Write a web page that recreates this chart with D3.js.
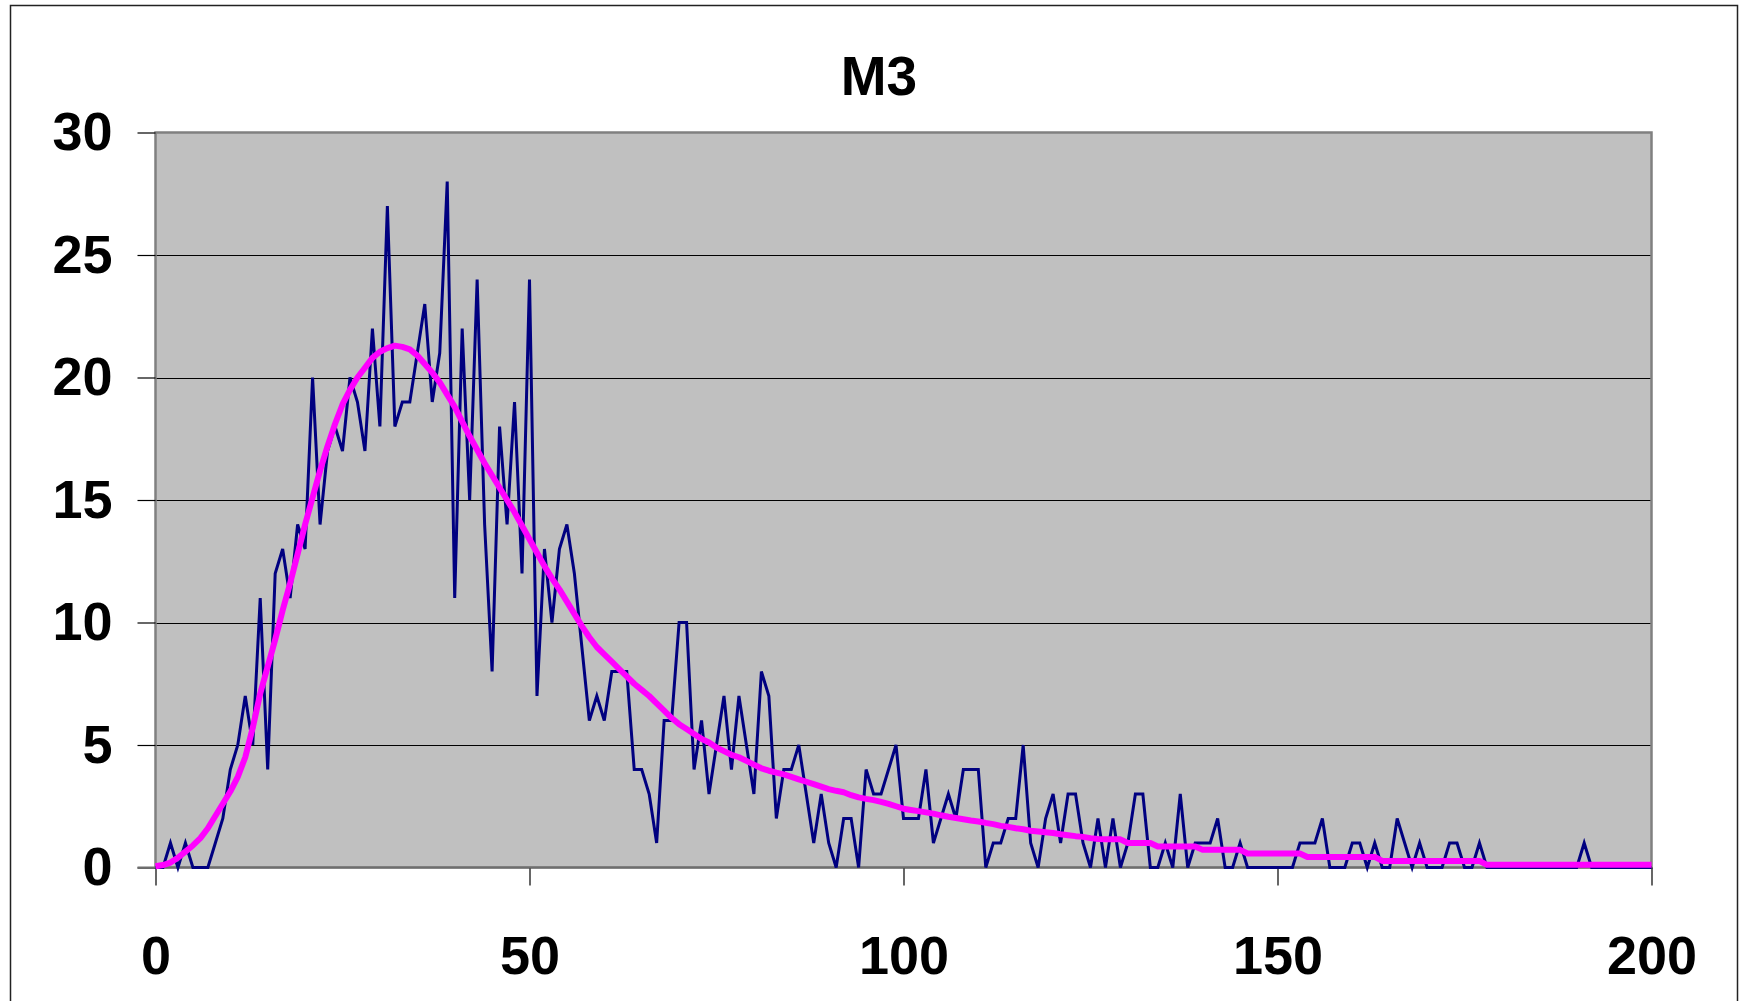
<!DOCTYPE html>
<html>
<head>
<meta charset="utf-8">
<script src="https://cdn.jsdelivr.net/npm/d3@7"></script>
<style>
  body { margin: 0; background: #fff; }
  text { font-family: "Liberation Sans", Arial, sans-serif; font-weight: bold; }
</style>
</head>
<body>
<script>
// observed counts, one per x = 0..200
var counts = [
    0, 0, 1, 0, 1, 0, 0, 0, 1, 2,
    4, 5, 7, 5, 11, 4, 12, 13, 11, 14,
    13, 20, 14, 17, 18, 17, 20, 19, 17, 22,
    18, 27, 18, 19, 19, 21, 23, 19, 21, 28,
    11, 22, 15, 24, 14, 8, 18, 14, 19, 12,
    24, 7, 13, 10, 13, 14, 12, 9, 6, 7,
    6, 8, 8, 8, 4, 4, 3, 1, 6, 6,
    10, 10, 4, 6, 3, 5, 7, 4, 7, 5,
    3, 8, 7, 2, 4, 4, 5, 3, 1, 3,
    1, 0, 2, 2, 0, 4, 3, 3, 4, 5,
    2, 2, 2, 4, 1, 2, 3, 2, 4, 4,
    4, 0, 1, 1, 2, 2, 5, 1, 0, 2,
    3, 1, 3, 3, 1, 0, 2, 0, 2, 0,
    1, 3, 3, 0, 0, 1, 0, 3, 0, 1,
    1, 1, 2, 0, 0, 1, 0, 0, 0, 0,
    0, 0, 0, 1, 1, 1, 2, 0, 0, 0,
    1, 1, 0, 1, 0, 0, 2, 1, 0, 1,
    0, 0, 0, 1, 1, 0, 0, 1, 0, 0,
    0, 0, 0, 0, 0, 0, 0, 0, 0, 0,
    0, 1, 0, 0, 0, 0, 0, 0, 0, 0,
    0
];

// fitted curve, one per x = 0..200
var fitted = [
    0.05, 0.1, 0.2, 0.4, 0.65, 0.9, 1.2, 1.6, 2.1, 2.6,
    3.1, 3.7, 4.5, 5.7, 7.1, 8.2, 9.3, 10.5, 11.6, 12.8,
    14.0, 15.1, 16.2, 17.2, 18.1, 18.9, 19.5, 20.0, 20.4, 20.8,
    21.05, 21.2, 21.3, 21.25, 21.15, 20.9, 20.55, 20.2, 19.8, 19.3,
    18.8, 18.2, 17.6, 17.05, 16.5, 16.0, 15.5, 15.0, 14.5, 13.95,
    13.4, 12.85, 12.3, 11.8, 11.35, 10.85, 10.35, 9.85, 9.4, 9.0,
    8.7, 8.4, 8.1, 7.8, 7.5, 7.25, 7.0, 6.7, 6.4, 6.1,
    5.85, 5.65, 5.45, 5.25, 5.1, 4.9, 4.75, 4.6, 4.5, 4.35,
    4.2, 4.05, 3.95, 3.87, 3.8, 3.7, 3.6, 3.5, 3.4, 3.3,
    3.2, 3.13, 3.07, 2.95, 2.86, 2.8, 2.75, 2.68, 2.6, 2.5,
    2.4, 2.35, 2.3, 2.25, 2.2, 2.13, 2.07, 2.02, 1.97, 1.92,
    1.88, 1.82, 1.77, 1.7, 1.66, 1.6, 1.56, 1.5, 1.47, 1.44,
    1.41, 1.36, 1.32, 1.28, 1.25, 1.2, 1.16, 1.15, 1.15, 1.15,
    1.0, 1.0, 1.0, 1.0, 0.86, 0.86, 0.86, 0.86, 0.86, 0.86,
    0.72, 0.72, 0.72, 0.72, 0.72, 0.72, 0.57, 0.57, 0.57, 0.57,
    0.57, 0.57, 0.57, 0.57, 0.43, 0.43, 0.43, 0.43, 0.43, 0.43,
    0.43, 0.43, 0.43, 0.43, 0.27, 0.27, 0.27, 0.27, 0.27, 0.27,
    0.27, 0.27, 0.27, 0.27, 0.27, 0.27, 0.27, 0.27, 0.11, 0.11,
    0.11, 0.11, 0.11, 0.11, 0.11, 0.11, 0.11, 0.11, 0.11, 0.11,
    0.11, 0.11, 0.11, 0.11, 0.11, 0.11, 0.11, 0.11, 0.11, 0.11,
    0.11
];

var title = 'M3';
var xTicks = [0, 50, 100, 150, 200];
var yTicks = [0, 5, 10, 15, 20, 25, 30];

var width = 1740,
    height = 1001,
    plot = { left: 155.5, right: 1651.5, top: 132.5, bottom: 867.5 };

var svg = d3.select('body')
    .append('svg')
    .attr('width', width)
    .attr('height', height)

// outer chart frame (bottom edge runs off the page)
svg.append('rect')
    .attr('x', 10.5).attr('y', 5.5)
    .attr('width', 1727).attr('height', 1100)
    .attr('fill', '#fff')
    .attr('stroke', '#222')
    .attr('stroke-width', 1.5)

var xScale = d3.scaleLinear()
    .domain([0, 200])
    .range([plot.left, plot.right])

var yScale = d3.scaleLinear()
    .domain([0, 30])
    .range([plot.bottom, plot.top])

// plot background
svg.append('rect')
    .attr('x', plot.left).attr('y', plot.top)
    .attr('width', plot.right - plot.left)
    .attr('height', plot.bottom - plot.top)
    .attr('fill', '#c0c0c0')

// gridlines
svg.append('g')
    .selectAll('line')
    .data(yTicks.filter(d => d > 0 && d < 30))
    .join('line')
    .attr('x1', plot.left).attr('x2', plot.right)
    .attr('y1', d => Math.round(yScale(d)) + 0.5)
    .attr('y2', d => Math.round(yScale(d)) + 0.5)
    .attr('stroke', '#000')
    .attr('stroke-width', 1)

// plot border
svg.append('rect')
    .attr('x', plot.left).attr('y', plot.top)
    .attr('width', plot.right - plot.left)
    .attr('height', plot.bottom - plot.top)
    .attr('fill', 'none')
    .attr('stroke', '#808080')
    .attr('stroke-width', 2.5)

var yAxis = d3.axisLeft(yScale)
    .tickValues(yTicks)
    .tickSize(18)
    .tickPadding(25)

var xAxis = d3.axisBottom(xScale)
    .tickValues(xTicks)
    .tickSize(18)
    .tickPadding(50)

var gy = svg.append('g')
    .attr('transform', `translate(${plot.left}, 0)`)
    .call(yAxis)

var gx = svg.append('g')
    .attr('transform', `translate(0, ${plot.bottom})`)
    .call(xAxis)

;[gx, gy].forEach(g => {
    g.select('.domain').remove()
    g.selectAll('.tick line').attr('stroke', '#000').attr('stroke-width', 1.2)
    g.selectAll('.tick text')
        .attr('fill', '#000')
        .style('font-size', '54px')
        .style('font-family', '"Liberation Sans", Arial, sans-serif')
        .style('font-weight', 'bold')
})

// x axis line on top of border
svg.append('line')
    .attr('x1', plot.left - 18).attr('x2', plot.right)
    .attr('y1', plot.bottom).attr('y2', plot.bottom)
    .attr('stroke', '#6e6e6e')
    .attr('stroke-width', 2)

var line = d3.line()
    .x((d, i) => xScale(i))
    .y(d => yScale(d))

svg.append('path')
    .attr('d', line(counts))
    .attr('fill', 'none')
    .attr('stroke', '#000080')
    .attr('stroke-width', 3)
    .attr('stroke-linejoin', 'miter')

svg.append('path')
    .attr('d', line(fitted))
    .attr('fill', 'none')
    .attr('stroke', '#ff00ff')
    .attr('stroke-width', 6)
    .attr('stroke-linejoin', 'round')

svg.append('text')
    .attr('x', 879)
    .attr('y', 95)
    .attr('text-anchor', 'middle')
    .style('font-size', '55px')
    .text(title)
</script>
</body>
</html>
